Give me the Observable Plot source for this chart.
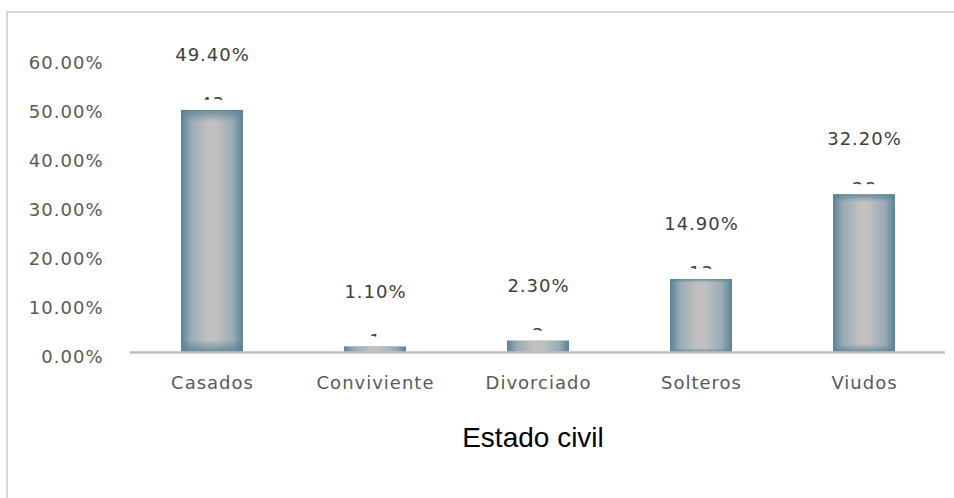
<!DOCTYPE html>
<html><head><meta charset="utf-8">
<script src="https://cdn.jsdelivr.net/npm/d3@7"></script>
<script src="https://cdn.jsdelivr.net/npm/@observablehq/plot@0.6"></script>
<style>
body{margin:0;background:#fff;}
#wrap{position:relative;width:954px;height:498px;overflow:hidden;}
#frame{position:absolute;left:6px;top:11px;right:-10px;bottom:-10px;border-left:2px solid #d9d9d9;border-top:2px solid #d9d9d9;}
#chart{position:absolute;left:0;top:0;}
#xtitle{position:absolute;left:433px;width:200px;top:424px;text-align:center;font-family:"Liberation Sans",Arial,sans-serif;font-size:28px;line-height:28px;color:#000;}
</style></head><body>
<div id="wrap"><div id="frame"></div><div id="chart"></div><div id="xtitle"></div></div>
<script>
const categories = ["Casados","Conviviente","Divorciado","Solteros","Viudos"];
const percents = [49.4, 1.1, 2.3, 14.9, 32.2];
const counts = [43, 1, 2, 13, 28];
const yTicks = [0, 10, 20, 30, 40, 50, 60];
const xTitle = "Estado civil";

const data = categories.map((c, i) => ({cat: c, pct: percents[i], n: counts[i]}));

const chart = Plot.plot({
  width: 954,
  height: 498,
  marginLeft: 130,
  marginRight: 9,
  marginTop: 58,
  marginBottom: 146,
  style: {fontFamily: "'DejaVu Sans', sans-serif", fontSize: "18px", background: "transparent", letterSpacing: "1px"},
  x: {domain: categories, paddingInner: 0.62, paddingOuter: 0.31},
  y: {domain: [0, 60]},
  marks: [
    Plot.text(data, {x: "cat", y: "pct", text: d => String(d.n), lineAnchor: "bottom", fill: "#404040", fontSize: 18}),
    Plot.barY(data, {x: "cat", y: "pct", fill: "#ffffff", insetTop: -10, insetLeft: -6, insetRight: -6}),
    Plot.barY(data, {x: "cat", y: "pct", fill: "#bfbfbf"}),
    Plot.barY(data, {x: "cat", y: "pct", fill: "#5e8797"}),
    Plot.ruleY([0], {stroke: "#bfbfbf", strokeWidth: 2.5}),
    Plot.text(data, {x: "cat", y: "pct", text: d => d.pct.toFixed(2) + "%", dy: -55, fill: "#404040", fontSize: 18}),
    Plot.axisY(yTicks, {tickSize: 0, tickPadding: 27, tickFormat: d => d.toFixed(2) + "%", fill: "#595959", dy: 5, label: null, fontSize: 18}),
    Plot.axisX({tickSize: 0, tickPadding: 24, fill: "#595959", label: null, fontSize: 18})
  ]
});

const svg = d3.select(chart);
const defs = svg.insert("defs", ":first-child");
const gh = defs.append("linearGradient").attr("id", "gH").attr("x1", 0).attr("x2", 1).attr("y1", 0).attr("y2", 0);
[[0, "#5a8395"], [0.16, "#98abb4"], [0.42, "#c0c0c0"], [0.58, "#c0c0c0"], [0.84, "#98abb4"], [1, "#5a8395"]]
  .forEach(([o, c]) => gh.append("stop").attr("offset", o).attr("stop-color", c));
const gv = defs.append("linearGradient").attr("id", "gV").attr("x1", 0).attr("x2", 0).attr("y1", 0).attr("y2", 1);
[[0, "#5a8395", 0.85], [0.05, "#5a8395", 0.0], [0.95, "#5a8395", 0.0], [1, "#5a8395", 0.85]]
  .forEach(([o, c, a]) => gv.append("stop").attr("offset", o).attr("stop-color", c).attr("stop-opacity", a));
const barGroups = svg.selectAll('g[aria-label="bar"]').nodes();
d3.select(barGroups[1]).attr("fill", "url(#gH)").selectAll("rect").attr("fill", "url(#gH)");
d3.select(barGroups[2]).attr("fill", "url(#gV)").selectAll("rect").attr("fill", "url(#gV)");

document.getElementById("chart").appendChild(chart);
document.getElementById("xtitle").textContent = xTitle;
</script>
</body></html>
